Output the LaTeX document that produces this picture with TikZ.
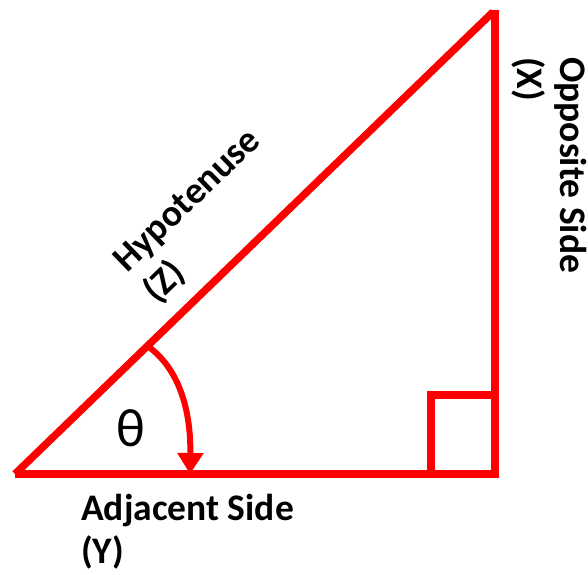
\documentclass[tikz,border=0pt]{standalone}
\usepackage{fontspec}
\setmainfont{Carlito}
\usetikzlibrary{arrows.meta}
\definecolor{tred}{RGB}{255,0,0}
\tikzset{
  side/.style={draw=tred, line width=7.5pt},
  lbl/.style={font=\fontsize{37.5}{43}\selectfont\bfseries, inner sep=0pt, align=left, text=black},
}
\begin{document}
\begin{tikzpicture}[x=1pt,y=-1pt]
\useasboundingbox (0,0) rectangle (588,574);
\coordinate (A) at (15,474);
\coordinate (B) at (499,474);
\coordinate (C) at (495,10);
\coordinate (Bv) at (495,478);
\coordinate (Ct) at (493,12);
\coordinate (S1) at (431,474);
\coordinate (S2) at (431,395);
\coordinate (S3) at (495,395);
\coordinate (R0) at (146,345);
\coordinate (R1) at (190,474);
\draw[side] (A) -- (B);
\draw[side] (C) -- (Bv);
\draw[side] (A) -- (Ct);
\draw[side] (S1) -- (S2) -- (S3);
\draw[draw=tred, line width=6pt, -{Triangle[width=25pt,length=21pt]}] (R0) .. controls (180,368) and (191,412) .. (R1);
\node[font=\fontsize{54}{60}\selectfont, text=black, inner sep=0pt] (theta) at (131,428) {θ};
\node[lbl, anchor=north west] (adj) at (81,494) {Adjacent Side\\(Y)};
\node[lbl, anchor=north west, rotate=-90] (opp) at (587,57) {Opposite Side\\(X)};
\node[lbl, anchor=north west, rotate=44] (hyp) at (110,256) {Hypotenuse\\(Z)};
\end{tikzpicture}
\end{document}
